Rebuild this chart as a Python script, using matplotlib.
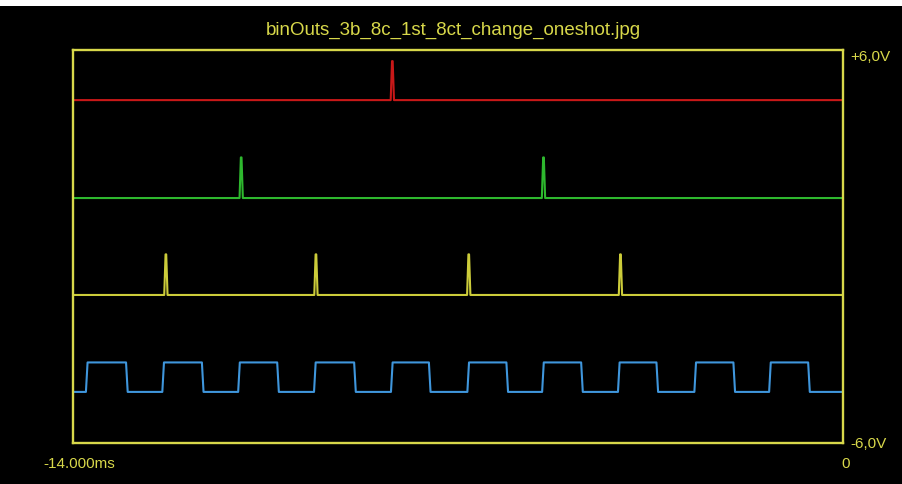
import numpy as np
import matplotlib.pyplot as plt
from matplotlib.patches import Rectangle

plt.rcParams['font.family'] = ['Liberation Sans', 'DejaVu Sans']

title = "binOuts_3b_8c_1st_8ct_change_oneshot.jpg"
t_start, t_end = -14.0, 0.0
v_min, v_max = -6.0, 6.0

# channel levels (V, display offset)
red_base, red_peak = 4.47, 5.66
green_base, green_peak = 1.48, 2.72
yellow_base, yellow_peak = -1.48, -0.24
blue_low, blue_high = -4.44, -3.54

# pulse times (ms)
red_pulses = [-8.19]
green_pulses = [-10.94, -5.44]
yellow_pulses = [-12.31, -9.58, -6.80, -4.04]

# clock edges (ms)
blue_rise = [-13.75, -12.36, -10.98, -9.60, -8.20, -6.81, -5.45, -4.07, -2.68, -1.32]
blue_fall = [-13.02, -11.64, -10.27, -8.87, -7.51, -6.10, -4.74, -3.37, -1.97, -0.61]

RAMP = 0.03
HALF_TOP = 0.006


def pulse_train(times, base, peak):
    xs, ys = [t_start], [base]
    for t in times:
        xs += [t - RAMP, t - HALF_TOP, t + HALF_TOP, t + RAMP]
        ys += [base, peak, peak, base]
    xs.append(t_end)
    ys.append(base)
    return xs, ys


def square_wave(rises, falls, low, high):
    xs, ys = [t_start], [low]
    for r, f in zip(rises, falls):
        xs += [r - RAMP / 2, r + RAMP / 2, f - RAMP / 2, f + RAMP / 2]
        ys += [low, high, high, low]
    xs.append(t_end)
    ys.append(low)
    return xs, ys


W, H = 902, 485
fig = plt.figure(figsize=(W / 100, H / 100), dpi=100, facecolor='black')
ax = fig.add_axes([73 / W, 1 - 444 / H, (842.5 - 73) / W, (444 - 51) / H])
ax.set_facecolor('black')

frame_col = '#d8d84a'
lw = 1.5

x, y = pulse_train(red_pulses, red_base, red_peak)
ax.plot(x, y, color='#c81818', lw=lw)
x, y = pulse_train(green_pulses, green_base, green_peak)
ax.plot(x, y, color='#2eb82e', lw=lw)
x, y = pulse_train(yellow_pulses, yellow_base, yellow_peak)
ax.plot(x, y, color='#cccc3a', lw=lw)
x, y = square_wave(blue_rise, blue_fall, blue_low, blue_high)
ax.plot(x, y, color='#3f96dc', lw=lw)

ax.set_xlim(t_start, t_end)
ax.set_ylim(v_min, v_max)
ax.set_xticks([])
ax.set_yticks([])
for s in ax.spines.values():
    s.set_color(frame_col)
    s.set_linewidth(1.7)

txt = dict(color=frame_col, fontsize=11)
fig.text(453 / W, 1 - 30 / H, title, ha='center', va='center', color=frame_col, fontsize=13.5)
fig.text(850 / W, 1 - 57 / H, "+6,0V", ha='left', va='center', **txt)
fig.text(850 / W, 1 - 444 / H, "-6,0V", ha='left', va='center', **txt)
fig.text(846 / W, 1 - 464 / H, "0", ha='center', va='center', **txt)
fig.text(43 / W, 1 - 464 / H, "-14.000ms", ha='left', va='center', **txt)

# white strip along the top edge
fig.patches.append(Rectangle((0, 1 - 7 / H), 1, 7 / H, transform=fig.transFigure,
                             facecolor='white', edgecolor='none', zorder=-1))

fig.savefig('out.png', dpi=100, facecolor='black')
